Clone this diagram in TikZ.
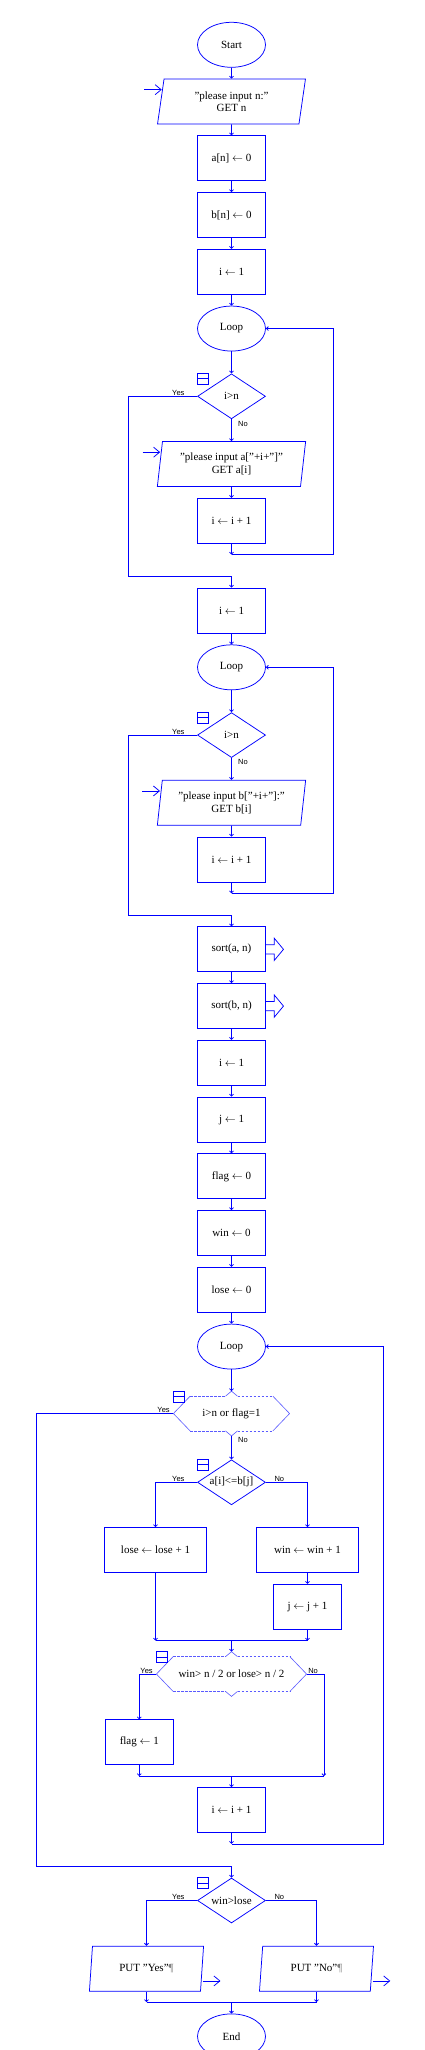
\documentclass[tikz,border=0pt]{standalone}
\usepackage{fontspec}
\setmainfont{Liberation Serif}
\newfontfamily\lblfont{Liberation Sans}
\usetikzlibrary{arrows.meta,positioning,shapes.geometric}
\definecolor{fcblue}{RGB}{0,0,255}
\definecolor{hexblue}{RGB}{90,90,255}
\newcommand{\asg}{$\leftarrow$}

\begin{document}
\begin{tikzpicture}[
    node distance=11pt,
    base/.style={
        draw=fcblue, line width=.75pt, inner sep=0, align=center,
        font=\fontsize{11pt}{12.5pt}\selectfont
    },
    term/.style={base, ellipse, minimum width=68pt, minimum height=45pt},
    proc/.style={base, rectangle, minimum width=68pt, minimum height=45pt},
    wide/.style={proc, minimum width=102.3pt},
    io/.style={base, trapezium, trapezium left angle=80, trapezium right angle=100,
        trapezium stretches, minimum width=148.4pt, minimum height=45pt},
    cond/.style={base, diamond, aspect=1.51, minimum width=68pt, minimum height=45pt},
    loopcond/.style={base, draw=none, rectangle, minimum height=34pt},
    conn/.style={fcblue, line width=.75pt},
    arr/.style={conn, -{Straight Barb[length=2pt,width=4pt]}},
    inarr/.style={conn, -{Straight Barb[length=6pt,width=10pt]}},
    hexline/.style={hexblue, line width=.6pt},
    hexdash/.style={hexline, dash pattern=on 2.5pt off 1.5pt},
    icon/.style={fcblue, line width=.9pt},
    lbl/.style={font=\lblfont\fontsize{7.5pt}{8pt}\selectfont, inner sep=.5pt}
]
\useasboundingbox (0,0) rectangle (424pt,-2050pt);
% Nodes -- main column
\node[term] (start) at (231.5pt,-44.8pt) {Start};
\node[io, below=of start] (in1) {"please input n:"\\GET n};
\node[proc, below=of in1] (an) {a[n] \asg{} 0};
\node[proc, below=of an] (bn) {b[n] \asg{} 0};
\node[proc, below=of bn] (i1) {i \asg{} 1};
% first loop
\node[term, below=of i1] (loop1) {Loop};
\node[cond, below=22pt of loop1] (cond1) {i>n};
\node[io, below=22pt of cond1] (in2) {"please input a["+i+"]"\\GET a[i]};
\node[proc, below=of in2] (inc1) {i \asg{} i + 1};
\node[proc, below=44pt of inc1] (i2) {i \asg{} 1};
% second loop
\node[term, below=of i2] (loop2) {Loop};
\node[cond, below=22pt of loop2] (cond2) {i>n};
\node[io, below=22pt of cond2] (in3) {"please input b["+i+"]:"\\GET b[i]};
\node[proc, below=of in3] (inc2) {i \asg{} i + 1};
\node[proc, below=44pt of inc2] (sorta) {sort(a, n)};
\node[proc, below=of sorta] (sortb) {sort(b, n)};
\node[proc, below=of sortb] (i3) {i \asg{} 1};
\node[proc, below=of i3] (j1) {j \asg{} 1};
\node[proc, below=of j1] (flag0) {flag \asg{} 0};
\node[proc, below=of flag0] (win0) {win \asg{} 0};
\node[proc, below=of win0] (lose0) {lose \asg{} 0};
% third loop
\node[term, below=of lose0] (loop3) {Loop};
\node[loopcond, minimum width=82pt, below=26.7pt of loop3] (cond3) {i>n or flag=1};
\node[cond, below=28.5pt of cond3] (cond4) {a[i]<=b[j]};
\node[wide, below=22pt of cond4, xshift=-76pt] (loseinc) {lose \asg{} lose + 1};
\node[wide, below=22pt of cond4, xshift=76pt] (wininc) {win \asg{} win + 1};
\node[proc, below=of wininc] (jinc) {j \asg{} j + 1};
\path (cond4 |- jinc.south) ++(0,-11pt) coordinate (m1);
\node[loopcond, minimum width=116pt, below=16pt of m1] (cond5) {win> n / 2 or lose> n / 2};
\node[proc, below=28pt of cond5, xshift=-92.2pt] (flag1) {flag \asg{} 1};
\path (cond5 |- flag1.south) ++(0,-11pt) coordinate (m2);
\node[proc, below=of m2] (inc3) {i \asg{} i + 1};
% result
\node[cond, below=44.7pt of inc3] (cond6) {win>lose};
\node[io, minimum width=114.4pt, below=22.4pt of cond6, xshift=-85pt] (outy) {PUT "Yes"{\color{gray}¶}};
\node[io, minimum width=114.4pt, below=22.4pt of cond6, xshift=85pt] (outn) {PUT "No"{\color{gray}¶}};
\path (cond6 |- outy.south) ++(0,-10.7pt) coordinate (m3);
\node[term, below=11.3pt of m3] (stop) {End};

% Loop conditions (hexagons with notches)
\foreach \h in {cond3,cond5}{
  \coordinate (\h-l) at ([xshift=-16.7pt]\h.west);
  \coordinate (\h-r) at ([xshift=16.7pt]\h.east);
  \coordinate (\h-t) at ([yshift=5pt]\h.north);
  \coordinate (\h-b) at ([yshift=-5pt]\h.south);
  \draw[hexline] (\h.north west) -- (\h-l) -- (\h.south west)
    (\h.north east) -- (\h-r) -- (\h.south east)
    ([xshift=-6pt]\h.north) -- (\h-t) -- ([xshift=6pt]\h.north)
    ([xshift=-6pt]\h.south) -- (\h-b) -- ([xshift=6pt]\h.south);
  \draw[hexdash] (\h.north west) -- ([xshift=-6pt]\h.north)
    ([xshift=6pt]\h.north) -- (\h.north east)
    (\h.south west) -- ([xshift=-6pt]\h.south)
    ([xshift=6pt]\h.south) -- (\h.south east);
  \draw[icon] (\h-l |- \h-t) rectangle ++(11pt,-11pt) ++(-11pt,5.5pt) -- ++(11pt,0);
}
% Decision icons
\foreach \d in {cond1,cond2,cond4,cond6}
  \draw[icon] (\d.west |- \d.north) rectangle ++(11pt,-11pt) ++(-11pt,5.5pt) -- ++(11pt,0);

% Straight connectors
\foreach \a/\b in {start/in1, in1/an, an/bn, bn/i1, i1/loop1, loop1/cond1, cond1/in2,
    in2/inc1, i2/loop2, loop2/cond2, cond2/in3, in3/inc2, sorta/sortb, sortb/i3,
    i3/j1, j1/flag0, flag0/win0, win0/lose0, lose0/loop3, wininc/jinc}
  \draw[arr] (\a) -- (\b);
\draw[arr] (loop3) -- (cond3-t);
\draw[arr] (cond3-b) -- (cond4);

% First two loops: back edge and exit
\foreach \l/\c/\b/\n in {loop1/cond1/inc1/i2, loop2/cond2/inc2/sorta}{
  \coordinate (\b-back) at ([yshift=-11pt]\b.south);
  \coordinate (\l-r) at ([xshift=67.6pt]\l.east);
  \coordinate (\c-l) at ([xshift=-68.4pt]\c.west);
  \coordinate (\n-j) at ([yshift=11pt]\n.north);
  \draw[arr] (\b) -- (\b-back);
  \draw[arr] (\b-back) -| (\l-r) -- (\l.east);
  \draw[arr] (\c.west) -- (\c-l) |- (\n-j) -- (\n);
  \node[lbl, anchor=south east] (\c-yes) at ([xshift=-12pt,yshift=.3pt]\c.west) {Yes};
  \node[lbl, anchor=north west] (\c-no) at ([xshift=6pt,yshift=-1pt]\c.south) {No};
}

% Third loop: branches
\draw[arr] (cond4.west) -| (loseinc.north);
\draw[arr] (cond4.east) -| (wininc.north);
\draw[arr] (loseinc.south) -- (loseinc.south |- m1);
\draw[arr] (jinc.south) -- (jinc.south |- m1);
\draw[conn] (loseinc.south |- m1) -- (jinc.south |- m1);
\draw[arr] (m1) -- (cond5-t);
\coordinate (r5) at ([xshift=17.3pt]cond5-r);
\draw[arr] (cond5-l) -| (flag1.north);
\draw[arr] (cond5-r) -- (r5) -- (r5 |- m2);
\draw[arr] (flag1.south) -- (flag1.south |- m2);
\draw[conn] (flag1.south |- m2) -- (r5 |- m2);
\draw[arr] (m2) -- (inc3);
% third loop: back edge and exit
\coordinate (back3) at ([yshift=-11pt]inc3.south);
\coordinate (r3) at ([xshift=117.6pt]loop3.east);
\draw[arr] (inc3) -- (back3);
\draw[arr] (back3) -| (r3) -- (loop3.east);
\coordinate (l3) at ([xshift=-136.7pt]cond3-l);
\coordinate (j6) at ([yshift=11.7pt]cond6.north);
\draw[arr] (cond3-l) -- (l3) |- (j6) -- (cond6);

% Result branches
\draw[arr] (cond6.west) -| (outy.north);
\draw[arr] (cond6.east) -| (outn.north);
\draw[arr] (outy.south) -- (outy.south |- m3);
\draw[arr] (outn.south) -- (outn.south |- m3);
\draw[conn] (outy.south |- m3) -- (outn.south |- m3);
\draw[arr] (m3) -- (stop);

% In/out markers and library calls
\foreach \i in {in1,in2,in3}
  \draw[inarr] ([xshift=-19.6pt,yshift=-11pt]\i.top left corner)
    -- ([xshift=-2pt,yshift=-11pt]\i.top left corner);
\foreach \o in {outy,outn}
  \draw[inarr] ([xshift=1.9pt,yshift=10.6pt]\o.bottom right corner) -- ++(17.7pt,0);
\foreach \s in {sorta,sortb}
  \draw[conn] ([yshift=4.7pt]\s.east) -- ++(8.3pt,0) -- ++(0,6.5pt) -- ++(9.3pt,-11.2pt)
    -- ++(-9.3pt,-11.2pt) -- ++(0,6.5pt) -- ([yshift=-4.7pt]\s.east);

% Labels
\node[lbl, anchor=south east] (cond3-yes) at ([xshift=-3pt]cond3-l) {Yes};
\node[lbl, anchor=north west] (cond3-no) at ([xshift=6pt,yshift=-1pt]cond3-b) {No};
\node[lbl, anchor=south east] (cond4-yes) at ([xshift=-12pt,yshift=.3pt]cond4.west) {Yes};
\node[lbl, anchor=south west] (cond4-no) at ([xshift=8pt,yshift=.3pt]cond4.east) {No};
\node[lbl, anchor=south east] (cond5-yes) at ([xshift=-3pt]cond5-l) {Yes};
\node[lbl, anchor=south west] (cond5-no) at ([xshift=1pt]cond5-r) {No};
\node[lbl, anchor=south east] (cond6-yes) at ([xshift=-12pt,yshift=.3pt]cond6.west) {Yes};
\node[lbl, anchor=south west] (cond6-no) at ([xshift=8pt,yshift=.3pt]cond6.east) {No};
\end{tikzpicture}
\end{document}
